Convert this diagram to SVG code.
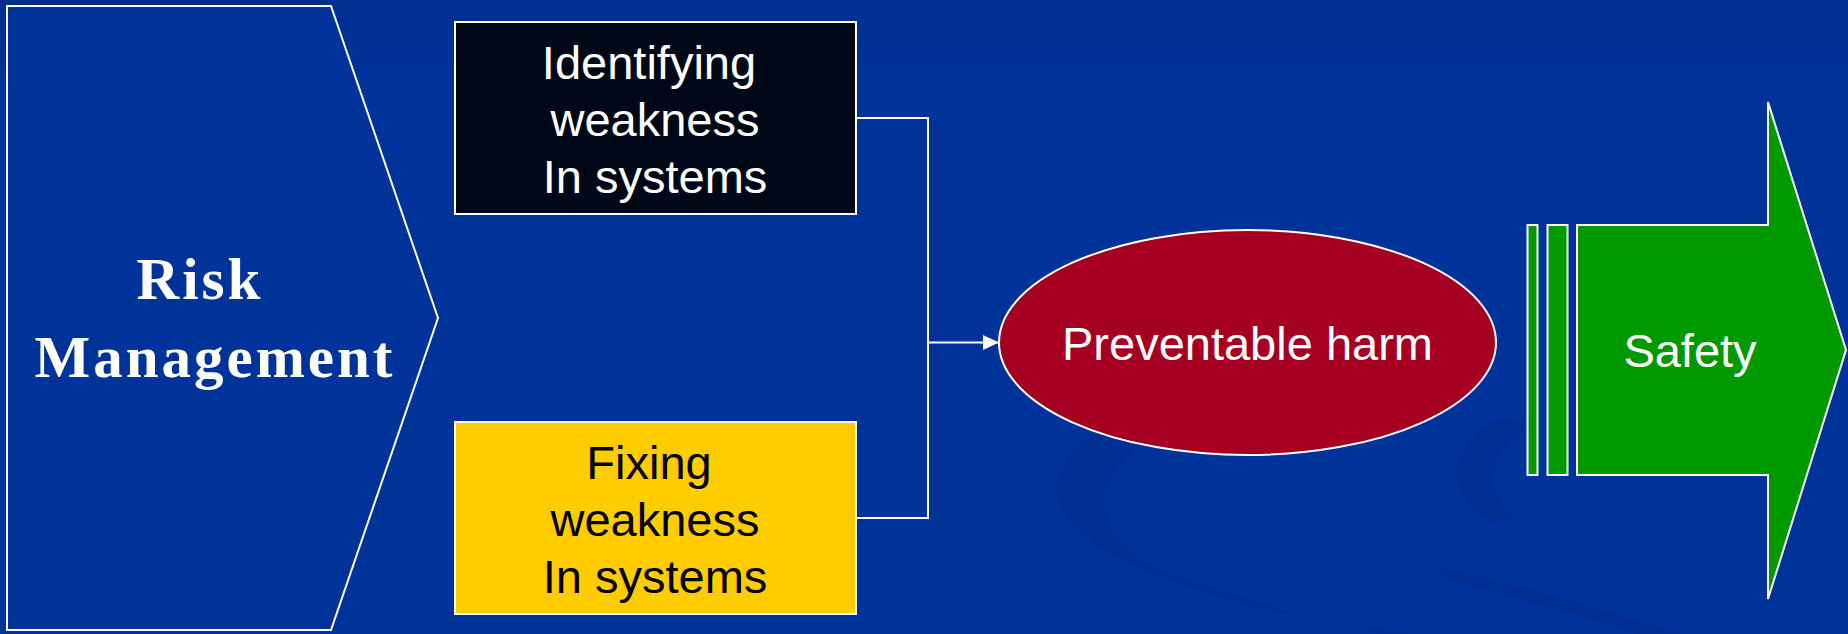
<svg xmlns="http://www.w3.org/2000/svg" width="1848" height="634" viewBox="0 0 1848 634">
  <defs>
    <linearGradient id="bg" x1="0" y1="0" x2="0" y2="1">
      <stop offset="0" stop-color="#002f91"/>
      <stop offset="0.15" stop-color="#003399"/>
      <stop offset="1" stop-color="#003399"/>
    </linearGradient>
    <marker id="arrow" markerWidth="16" markerHeight="15" refX="16" refY="7.5" orient="auto" markerUnits="userSpaceOnUse">
      <path d="M0,0 L16,7.5 L0,15 Z" fill="#ffffff"/>
    </marker>
    <style>
      .shape { stroke: #ffffff; stroke-width: 2; }
      .sans { font-family: "Liberation Sans", Arial, sans-serif; font-size: 47px; text-anchor: middle; }
      .serif { font-family: "Liberation Serif", "Times New Roman", serif; font-size: 59px; font-weight: bold; fill: #ffffff; text-anchor: middle; letter-spacing: 3px; }
      .conn { fill: none; stroke: #ffffff; stroke-width: 2; }
      .swoosh { fill: #002a88; opacity: 0.45; }
    </style>
  </defs>

  <rect x="0" y="0" width="1848" height="634" fill="url(#bg)"/>

  <g id="background-swooshes">
    <path class="swoosh" d="M1115,424 C1070,440 1050,475 1060,505 C1075,545 1140,575 1250,605 C1320,622 1380,630 1420,634 L1380,634 C1300,615 1220,595 1160,570 C1120,550 1100,520 1105,495 C1110,470 1130,450 1160,438 Z"/>
    <path class="swoosh" d="M1505,418 C1470,430 1455,455 1458,480 C1462,502 1478,515 1495,524 L1510,515 C1495,500 1490,485 1495,465 C1500,448 1515,436 1535,428 Z"/>
    <path class="swoosh" d="M1440,568 C1520,585 1600,610 1680,634 L1640,634 C1580,615 1510,595 1445,580 Z"/>
  </g>

  <g id="risk-management">
    <polygon class="shape" points="7,6 331,6 438,318 331,630 7,630" fill="#003399"/>
    <text class="serif" x="200" y="299">Risk</text>
    <text class="serif" x="215" y="377">Management</text>
  </g>

  <g id="identifying">
    <rect class="shape" x="455" y="22" width="401" height="192" fill="#000818"/>
    <text class="sans" fill="#ffffff" x="649" y="79">Identifying</text>
    <text class="sans" fill="#ffffff" x="655" y="136">weakness</text>
    <text class="sans" fill="#ffffff" x="655" y="193">In systems</text>
  </g>

  <g id="fixing">
    <rect class="shape" x="455" y="422" width="401" height="192" fill="#ffcc00"/>
    <text class="sans" fill="#000000" x="649" y="479">Fixing</text>
    <text class="sans" fill="#000000" x="655" y="536">weakness</text>
    <text class="sans" fill="#000000" x="655" y="593">In systems</text>
  </g>

  <g id="connectors">
    <polyline class="conn" points="856,118 928,118 928,518 856,518"/>
    <line class="conn" x1="928" y1="342.5" x2="999" y2="342.5" marker-end="url(#arrow)"/>
  </g>

  <g id="preventable-harm">
    <ellipse class="shape" cx="1247.5" cy="342.5" rx="248.5" ry="112.5" fill="#a50021"/>
    <text class="sans" fill="#ffffff" x="1247.5" y="360">Preventable harm</text>
  </g>

  <g id="safety">
    <rect class="shape" x="1527.5" y="225" width="10" height="250" fill="#009900"/>
    <rect class="shape" x="1547.5" y="225" width="20" height="250" fill="#009900"/>
    <polygon class="shape" points="1577,225 1768,225 1768,102 1846,350 1768,599 1768,475 1577,475" fill="#009900"/>
    <text class="sans" fill="#ffffff" x="1690" y="367">Safety</text>
  </g>
</svg>
